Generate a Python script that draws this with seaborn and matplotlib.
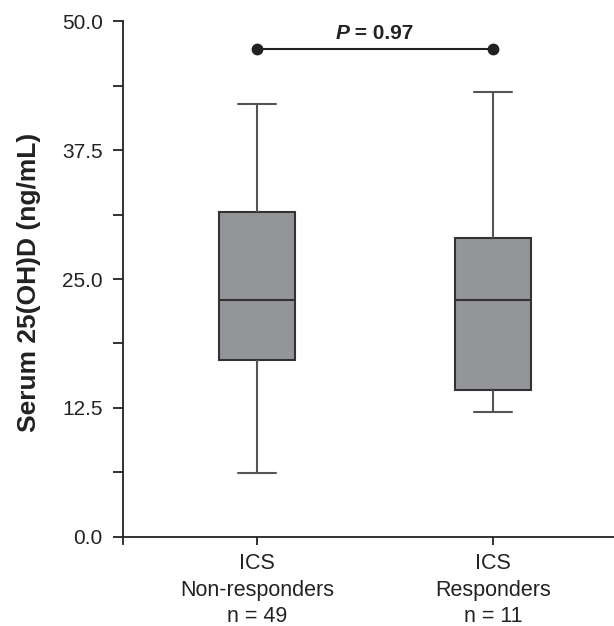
import numpy as np
import pandas as pd
import seaborn as sns
from matplotlib import pyplot as plt
from matplotlib.ticker import MultipleLocator, FormatStrFormatter

# five-number summaries (min, q1, median, q3, max)
groups = ['ICS\nNon-responders\nn = 49', 'ICS\nResponders\nn = 11']
non_resp = [6.2, 17.1, 23.0, 31.5, 42.0]
resp = [12.1, 14.2, 23.0, 29.0, 43.1]
p_value = ' = 0.97'
p_y = 47.35

sns.set_style('ticks')
plt.rcParams['font.family'] = ['Liberation Sans', 'DejaVu Sans']

df = pd.DataFrame({
    'group': [groups[0]] * len(non_resp) + [groups[1]] * len(resp),
    'value': non_resp + resp,
})

fig = plt.figure(figsize=(6.14, 6.26), dpi=100)
ax = fig.add_axes([0.2003, 0.131, 0.7997, 0.835])

sns.boxplot(data=df, x='group', y='value', order=groups, ax=ax, whis=np.inf,
            width=0.32, color='#939598', saturation=1, linewidth=1.5,
            boxprops=dict(edgecolor='#333333', facecolor='#939598'),
            medianprops=dict(color='#333333', linewidth=1.5),
            whiskerprops=dict(color='#555555', linewidth=1.5),
            capprops=dict(color='#555555', linewidth=1.5))

# comparison bar
ax.plot([0, 1], [p_y, p_y], color='#222222', lw=1.5, marker='o', ms=7.5)
ax.text(0.39, p_y + 0.9, 'P', ha='right', va='baseline', fontsize=15,
        fontweight='bold', style='italic', color='#222222')
ax.text(0.39, p_y + 0.9, p_value, ha='left', va='baseline', fontsize=15,
        fontweight='bold', color='#222222')

ax.set_xlim(-0.568, 1.513)
ax.set_ylim(-0.7, 50)
ax.spines['bottom'].set_position(('data', 0))
ax.spines['top'].set_visible(False)
ax.spines['right'].set_visible(False)
for s in ['left', 'bottom']:
    ax.spines[s].set_color('#222222')
    ax.spines[s].set_linewidth(1.3)
ax.set_yticks([0, 12.5, 25, 37.5, 50])
ax.yaxis.set_major_formatter(FormatStrFormatter('%.1f'))
ax.yaxis.set_minor_locator(MultipleLocator(6.25))
ax.tick_params(axis='y', which='both', length=7.5, width=1.3, color='#222222',
               labelsize=15, labelcolor='#222222', pad=7)
ax.tick_params(axis='x', length=5.5, width=1.3, color='#222222',
               labelsize=15.5, labelcolor='#222222', pad=6)
for lab in ax.get_xticklabels():
    lab.set_linespacing(1.36)
ax.set_xlabel('')
ax.set_ylabel('Serum 25(OH)D (ng/mL)', fontsize=19, fontweight='bold',
              color='#222222', labelpad=15)

fig.savefig('out.png', dpi=100)
